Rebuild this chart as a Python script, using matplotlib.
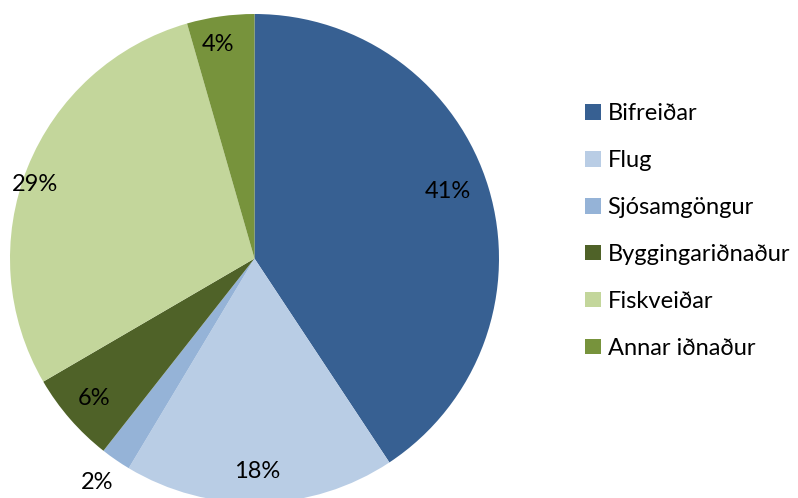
import numpy as np
import matplotlib.pyplot as plt

# shares of emissions by source (%)
labels = ['Bifreiðar', 'Flug', 'Sjósamgöngur', 'Byggingariðnaður', 'Fiskveiðar', 'Annar iðnaður']
values = [40.7, 17.9, 2.0, 6.0, 28.95, 4.45]
colors = ['#376092', '#B9CDE5', '#95B3D7', '#4F6228', '#C3D69B', '#77933C']
# label placement: distance (fraction of radius) and angle nudge (deg), Excel "best fit"-ish
label_dist = [0.836, 0.87, 1.12, 0.87, 0.948, 0.89]
label_nudge = [2.4, -0.6, -0.6, 0.0, 3.2, 1.7]

plt.rcParams['font.family'] = ['Lato', 'DejaVu Sans']

fig = plt.figure(figsize=(7.98, 4.98), dpi=100)
ax = fig.add_axes([0, 0, 1, 1])

cx, cy, r = 254.5, 239.5, 244.5
wedges, _ = ax.pie(values, colors=colors, startangle=90, counterclock=False,
                   center=(cx, cy), radius=r, frame=True,
                   wedgeprops=dict(linewidth=0))
ax.set_xlim(0, 798)
ax.set_ylim(0, 498)
ax.set_aspect('equal')
ax.axis('off')

total = sum(values)
cum = 0
for v, d, nudge in zip(values, label_dist, label_nudge):
    mid = 90 - (cum + v / 2) / total * 360 + nudge
    cum += v
    a = np.deg2rad(mid)
    ax.text(cx + d * r * np.cos(a), cy + d * r * np.sin(a), f'{v:.0f}%',
            ha='center', va='center', fontsize=17, color='black')

ax.legend(wedges, labels, loc='center left', bbox_to_anchor=(576 / 798, 1 - 231 / 498),
          frameon=False, fontsize=17, handlelength=0.64, handleheight=0.64,
          handletextpad=0.3, labelspacing=1.1, borderaxespad=0)

fig.savefig('out.png', dpi=100)
